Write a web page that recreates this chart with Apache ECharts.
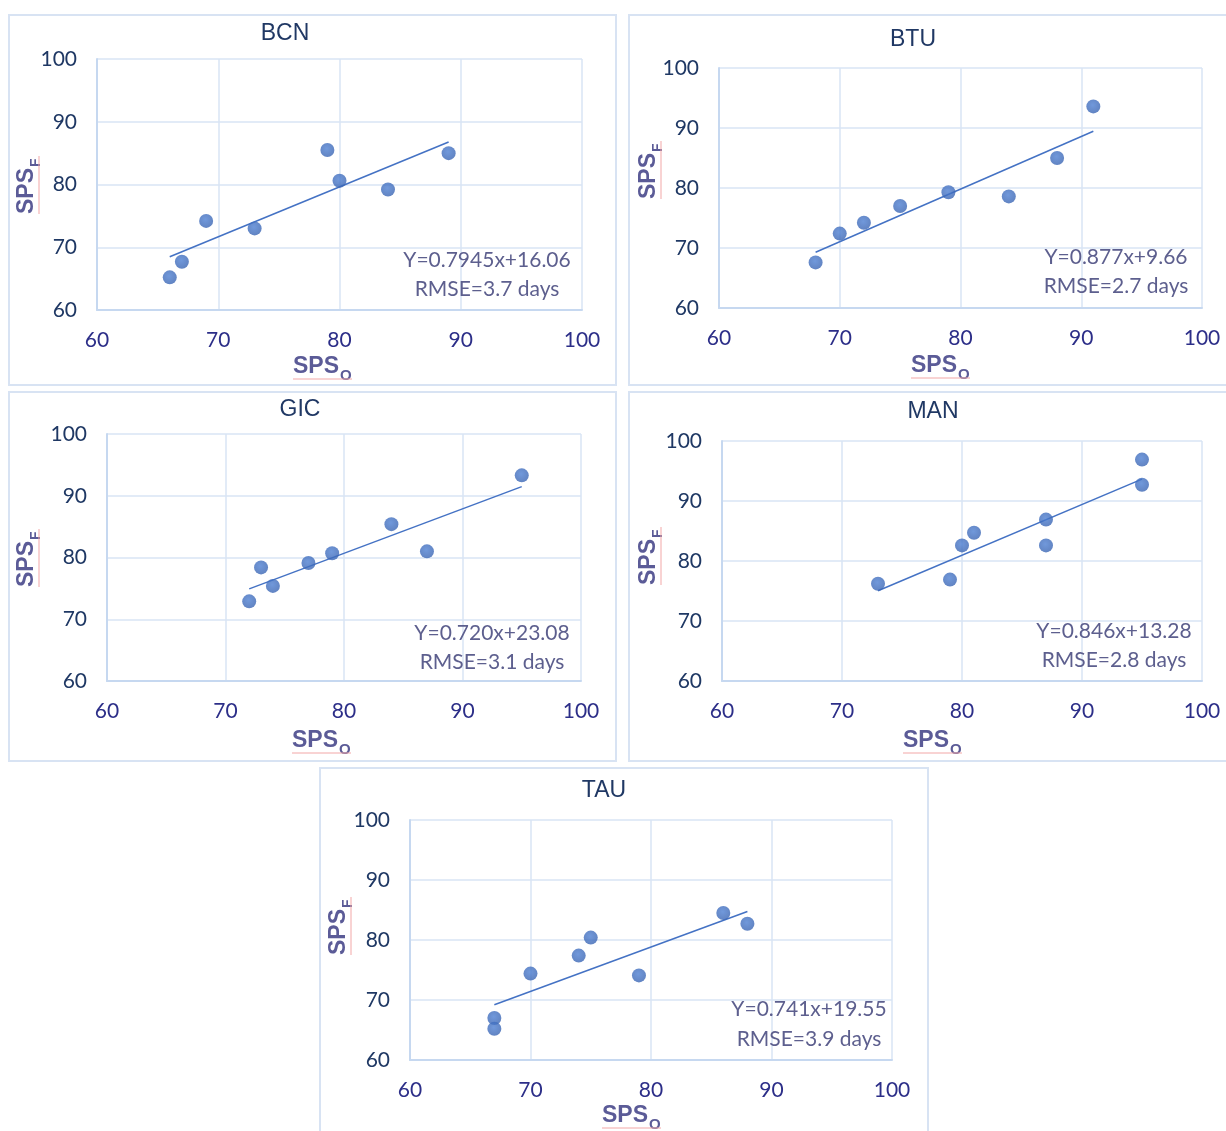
<!DOCTYPE html>
<html>
<head>
<meta charset="utf-8">
<script src="https://cdn.jsdelivr.net/npm/echarts@6/dist/echarts.min.js"></script>
<style>
html,body{margin:0;padding:0;background:#fff;}
#chart{width:1226px;height:1131px;}
</style>
</head>
<body>
<div id="chart"></div>
<script>
// ---- data ----
const panelNames = ['BCN', 'BTU', 'GIC', 'MAN', 'TAU'];
const tickValues = [60, 70, 80, 90, 100];

const bcnX = [66, 67, 69, 73, 79, 80, 84, 89];
const bcnY = [65.2, 67.7, 74.2, 73.0, 85.5, 80.6, 79.2, 85.0];
const btuX = [68, 70, 72, 75, 79, 84, 88, 91];
const btuY = [67.6, 72.4, 74.2, 77.0, 79.3, 78.6, 85.0, 93.6];
const gicX = [72, 73, 74, 77, 79, 84, 87, 95];
const gicY = [72.9, 78.4, 75.4, 79.1, 80.7, 85.4, 81.0, 93.3];
const manX = [73, 79, 80, 81, 87, 87, 95, 95];
const manY = [76.2, 76.9, 82.6, 84.7, 86.9, 82.6, 96.9, 92.7];
const tauX = [67, 67, 70, 74, 75, 79, 86, 88];
const tauY = [67.0, 65.2, 74.4, 77.4, 80.4, 74.1, 84.5, 82.7];

const slopes = [0.7945, 0.877, 0.720, 0.846, 0.741];
const intercepts = [16.06, 9.66, 23.08, 13.28, 19.55];
const eqLabels = ['Y=0.7945x+16.06', 'Y=0.877x+9.66', 'Y=0.720x+23.08', 'Y=0.846x+13.28', 'Y=0.741x+19.55'];
const rmseLabels = ['RMSE=3.7 days', 'RMSE=2.7 days', 'RMSE=3.1 days', 'RMSE=2.8 days', 'RMSE=3.9 days'];

const xs = [bcnX, btuX, gicX, manX, tauX];
const ys = [bcnY, btuY, gicY, manY, tauY];

// ---- layout (pixels) ----
const grids = [
  {left: 97, top: 59, width: 485, height: 251},
  {left: 719, top: 68, width: 483, height: 240},
  {left: 107, top: 434, width: 474, height: 247},
  {left: 722, top: 441, width: 480, height: 240},
  {left: 410, top: 820, width: 482, height: 240}
];
const frames = [
  {x: 9, y: 15, w: 607, h: 370},
  {x: 629, y: 15, w: 604, h: 370},
  {x: 9, y: 392, w: 607, h: 369},
  {x: 629, y: 392, w: 604, h: 369},
  {x: 320, y: 768, w: 608, h: 370}
];
const titlePos = [[285, 34], [913, 40], [300, 410], [933, 412], [604, 791]];
const eqPos = [[487, 260, 289], [1116, 257, 286], [492, 633, 662], [1114, 631, 660], [809, 1009, 1039]];
const xNamePos = [[317, 368], [935, 367], [316, 742], [927, 742], [626, 1117]];
const yNamePos = [[28, 193], [650, 178], [28, 566], [650, 564], [340, 934]];

const FRAME = '#d8e3f3';
const GRIDLINE = '#d9e4f4';
const AXISLINE = '#c6d8f0';
const DOT = '#4472C4';
const NAMECOL = '#5b5b97';
const EQCOL = '#5d5f8e';
const NAMEFONT = 'bold 23px "Liberation Sans", Arial, sans-serif';

const option = {
  backgroundColor: '#ffffff',
  animation: false,
  grid: [], xAxis: [], yAxis: [], series: [], graphic: []
};

grids.forEach((g, i) => {
  option.grid.push({left: g.left, top: g.top, width: g.width, height: g.height, containLabel: false});
  option.xAxis.push({
    type: 'value', gridIndex: i, min: 60, max: 100, interval: 10,
    axisLine: {show: true, lineStyle: {color: AXISLINE, width: 2}},
    axisTick: {show: false},
    splitLine: {show: true, lineStyle: {color: GRIDLINE, width: 1.5}},
    axisLabel: {color: '#2c2e88', fontFamily: 'Lato', fontSize: 21, margin: 20}
  });
  option.yAxis.push({
    type: 'value', gridIndex: i, min: 60, max: 100, interval: 10,
    axisLine: {show: true, lineStyle: {color: AXISLINE, width: 2}},
    axisTick: {show: false},
    splitLine: {show: true, lineStyle: {color: GRIDLINE, width: 1.5}},
    axisLabel: {color: '#1f3864', fontFamily: 'Lato', fontSize: 21, margin: 20}
  });
  const pts = xs[i].map((x, k) => [x, ys[i][k]]);
  const xmin = Math.min(...xs[i]), xmax = Math.max(...xs[i]);
  const trend = [[xmin, slopes[i] * xmin + intercepts[i]], [xmax, slopes[i] * xmax + intercepts[i]]];
  option.series.push({
    type: 'line', xAxisIndex: i, yAxisIndex: i, data: trend,
    symbol: 'none', lineStyle: {color: DOT, width: 1.5}, z: 2
  });
  option.series.push({
    type: 'scatter', xAxisIndex: i, yAxisIndex: i, data: pts,
    symbolSize: 14,
    itemStyle: {color: {type: 'radial', x: 0.45, y: 0.4, r: 0.6,
      colorStops: [{offset: 0, color: '#4d7fd2'}, {offset: 1, color: '#3a65b3'}]}},
    z: 3
  });

  const f = frames[i];
  option.graphic.push({type: 'rect', shape: {x: f.x, y: f.y, width: f.w, height: f.h},
    style: {fill: 'none', stroke: FRAME, lineWidth: 2}, silent: true, z: 0});
  option.graphic.push({type: 'text', x: titlePos[i][0], y: titlePos[i][1],
    style: {text: panelNames[i], font: '23px "Liberation Sans", Arial, sans-serif', fill: '#203864',
      textAlign: 'center', textVerticalAlign: 'middle'}});
  const e = eqPos[i];
  option.graphic.push({type: 'text', x: e[0], y: e[1],
    style: {text: eqLabels[i], font: '21px Lato, sans-serif', fill: EQCOL, textAlign: 'center', textVerticalAlign: 'middle'}, z: 5});
  option.graphic.push({type: 'text', x: e[0], y: e[2],
    style: {text: rmseLabels[i], font: '21px Lato, sans-serif', fill: EQCOL, textAlign: 'center', textVerticalAlign: 'middle'}, z: 5});

  // x axis name SPS_O
  const xn = xNamePos[i];
  option.graphic.push({type: 'text', x: xn[0] - 24, y: xn[1] - 1,
    style: {text: 'SPS', font: NAMEFONT, fill: NAMECOL, textAlign: 'left', textVerticalAlign: 'middle'}});
  option.graphic.push({type: 'text', x: xn[0] + 23, y: xn[1] + 8,
    style: {text: 'O', font: 'bold 15px "Liberation Sans", Arial, sans-serif', fill: NAMECOL,
      textAlign: 'left', textVerticalAlign: 'middle'}});
  option.graphic.push({type: 'line', shape: {x1: xn[0] - 24, y1: xn[1] + 11, x2: xn[0] + 35, y2: xn[1] + 11},
    style: {stroke: '#f2a7a7', lineWidth: 1}, silent: true});

  // y axis name SPS_F (rotated)
  const yn = yNamePos[i];
  option.graphic.push({type: 'text', x: yn[0] - 1, y: yn[1] + 21, rotation: Math.PI / 2,
    style: {text: 'SPS', font: NAMEFONT, fill: NAMECOL, textAlign: 'left', textVerticalAlign: 'middle'}});
  option.graphic.push({type: 'text', x: yn[0] + 8, y: yn[1] - 26, rotation: Math.PI / 2,
    style: {text: 'F', font: 'bold 14px "Liberation Sans", Arial, sans-serif', fill: NAMECOL,
      textAlign: 'left', textVerticalAlign: 'middle'}});
  option.graphic.push({type: 'line', shape: {x1: yn[0] + 11, y1: yn[1] + 21, x2: yn[0] + 11, y2: yn[1] - 37},
    style: {stroke: '#f2a7a7', lineWidth: 1}, silent: true});
});

const chart = echarts.init(document.getElementById('chart'), null, {renderer: 'canvas'});
chart.setOption(option);
</script>
</body>
</html>
